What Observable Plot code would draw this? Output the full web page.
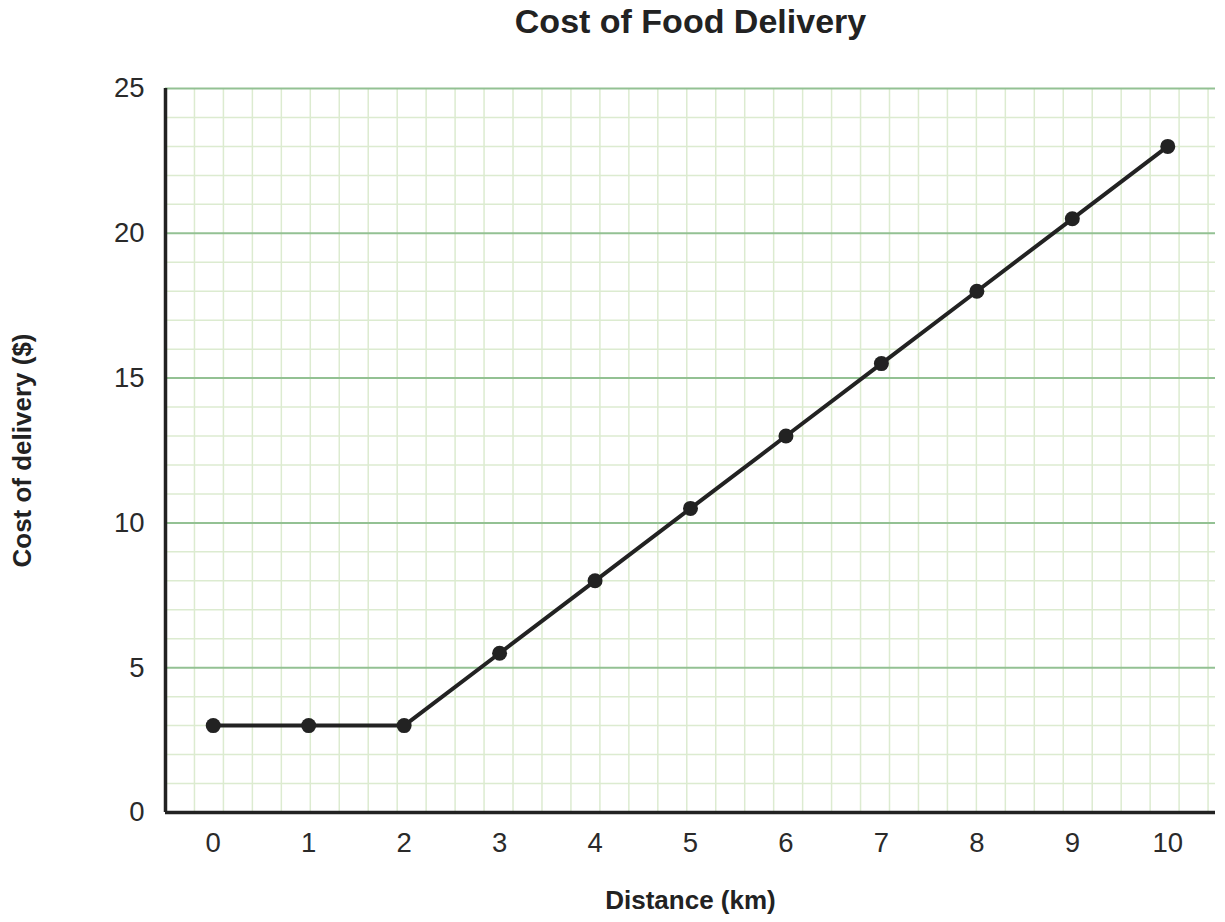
<!DOCTYPE html>
<html>
<head>
<meta charset="utf-8">
<script src="https://cdn.jsdelivr.net/npm/d3@7"></script>
<script src="https://cdn.jsdelivr.net/npm/@observablehq/plot@0.6"></script>
<style>
  html, body { margin: 0; padding: 0; background: #fff; }
  #chart svg { display: block; }
</style>
</head>
<body>
<div id="chart"></div>
<script>
const distances = [0, 1, 2, 3, 4, 5, 6, 7, 8, 9, 10];
const costs = [3, 3, 3, 5.5, 8, 10.5, 13, 15.5, 18, 20.5, 23];
const xTicks = [0, 1, 2, 3, 4, 5, 6, 7, 8, 9, 10];
const yTicks = [0, 5, 10, 15, 20, 25];
const title = "Cost of Food Delivery";
const xLabel = "Distance (km)";
const yLabel = "Cost of delivery ($)";

const W = 1225, H = 922;
const mL = 165, mR = 10, mT = 88, mB = 110;
const xDomain = [-0.5, 10.5];
const yDomain = [0, 25];

const data = distances.map((d, i) => ({x: d, y: costs[i]}));

// square graph-paper grid: one cell per y unit, same pixel size horizontally
const yMinor = d3.range(yDomain[0], yDomain[1] + 1);
const yMinorOnly = yMinor.filter(v => v % 5 !== 0);
const yMajor = yMinor.filter(v => v % 5 === 0 && v > 0);
const cellPx = (H - mT - mB) / (yDomain[1] - yDomain[0]);
const xUnitPx = (W - mL - mR) / (xDomain[1] - xDomain[0]);
const xStep = cellPx / xUnitPx;
const xMinor = d3.range(xDomain[0] + xStep, xDomain[1], xStep);

const font = "'Liberation Sans', Arial, Helvetica, sans-serif";

const chart = Plot.plot({
  width: W,
  height: H,
  marginLeft: mL,
  marginRight: mR,
  marginTop: mT,
  marginBottom: mB,
  style: {fontFamily: font, background: "#fff", color: "#222"},
  x: {domain: xDomain, label: null},
  y: {domain: yDomain, label: null},
  marks: [
    Plot.ruleX(xMinor, {stroke: "#dcebd0", strokeWidth: 1.5}),
    Plot.ruleY(yMinorOnly, {stroke: "#dcebd0", strokeWidth: 1.5}),
    Plot.ruleY(yMajor, {stroke: "#93c193", strokeWidth: 2}),
    Plot.ruleX([xDomain[0]], {stroke: "#222", strokeWidth: 3.5}),
    Plot.ruleY([yDomain[0]], {stroke: "#222", strokeWidth: 3.5}),
    Plot.axisX(xTicks, {tickSize: 0, tickPadding: 20, fontSize: 27.5, fill: "#2a2a2a", fontWeight: 300, label: null}),
    Plot.axisY(yTicks, {tickSize: 0, tickPadding: 21, fontSize: 27.5, fill: "#2a2a2a", fontWeight: 300, label: null}),
    Plot.line(data, {x: "x", y: "y", stroke: "#222", strokeWidth: 4}),
    Plot.dot(data, {x: "x", y: "y", r: 7.5, fill: "#222", stroke: "none"}),
    Plot.text([title], {frameAnchor: "top", lineAnchor: "middle", textAnchor: "middle", dy: -66, text: d => d, fontSize: 34, fontWeight: "bold", fill: "#222"}),
    Plot.text([xLabel], {frameAnchor: "bottom", lineAnchor: "middle", textAnchor: "middle", dy: 88, text: d => d, fontSize: 26, fontWeight: "bold", fill: "#222"}),
    Plot.text([yLabel], {frameAnchor: "left", lineAnchor: "middle", textAnchor: "middle", dx: -143, rotate: -90, text: d => d, fontSize: 26, fontWeight: "bold", fill: "#222"})
  ]
});
document.getElementById("chart").appendChild(chart);
</script>
</body>
</html>
